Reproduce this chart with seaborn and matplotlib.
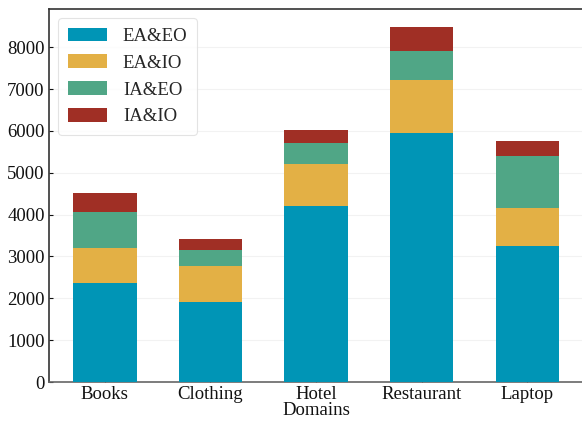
import matplotlib
matplotlib.use('Agg')
import matplotlib.pyplot as plt
import numpy as np
import pandas as pd
import seaborn as sns

# Data
domains = ['Books', 'Clothing', 'Hotel', 'Restaurant', 'Laptop']
series = ['EA&EO', 'EA&IO', 'IA&EO', 'IA&IO']
ea_eo = [2360, 1905, 4200, 5950, 3245]
ea_io = [835, 860, 1005, 1270, 910]
ia_eo = [860, 385, 505, 695, 1245]
ia_io = [460, 265, 310, 575, 360]
colors = ['#0095B6', '#E3B045', '#50A686', '#A02F25']

sns.set_theme(style='white')
plt.rcParams['font.family'] = ['Liberation Serif', 'DejaVu Serif']

df = pd.DataFrame({'Domain': domains, 'EA&EO': ea_eo, 'EA&IO': ea_io,
                   'IA&EO': ia_eo, 'IA&IO': ia_io})

fig, ax = plt.subplots(figsize=(5.82, 4.24), dpi=100)
fig.subplots_adjust(left=0.084, right=1.002, top=0.979, bottom=0.099)

bottom = np.zeros(len(domains))
for name, col in zip(series, colors):
    sns.barplot(data=df, x='Domain', y=name, bottom=bottom, color=col,
                width=0.6, label=name, ax=ax, saturation=1, linewidth=0,
                zorder=3)
    bottom += df[name].values

ax.set_ylim(0, bottom.max() * 1.05)
ax.set_xlim(-0.53, len(domains) - 0.47)
ax.set_yticks(np.arange(0, 9000, 1000))
ax.yaxis.grid(True, color='#f2f2f2', linewidth=0.8, zorder=0)
ax.set_axisbelow(True)

ax.set_xlabel('Domains', fontsize=13.5, labelpad=-1, color='#111111')
ax.set_ylabel('')
ax.tick_params(axis='both', direction='in', length=3, width=0.8,
               labelsize=13.5, colors='#111111', pad=3,
               bottom=True, left=True)
for s in ['left', 'top', 'right']:
    ax.spines[s].set_color('#333333')
    ax.spines[s].set_linewidth(1.2)
ax.spines['bottom'].set_color('#666666')
ax.spines['bottom'].set_linewidth(1.2)

leg = ax.legend(loc='upper left', fontsize=13.5, handlelength=2.1,
                handleheight=0.75, handletextpad=0.85, labelspacing=0.5,
                borderpad=0.5, frameon=True, fancybox=True,
                bbox_to_anchor=(0.0, 1.0))
leg.get_frame().set_edgecolor('#dddddd')
leg.get_frame().set_linewidth(0.8)

fig.savefig('out.png', dpi=100)
plt.close(fig)
